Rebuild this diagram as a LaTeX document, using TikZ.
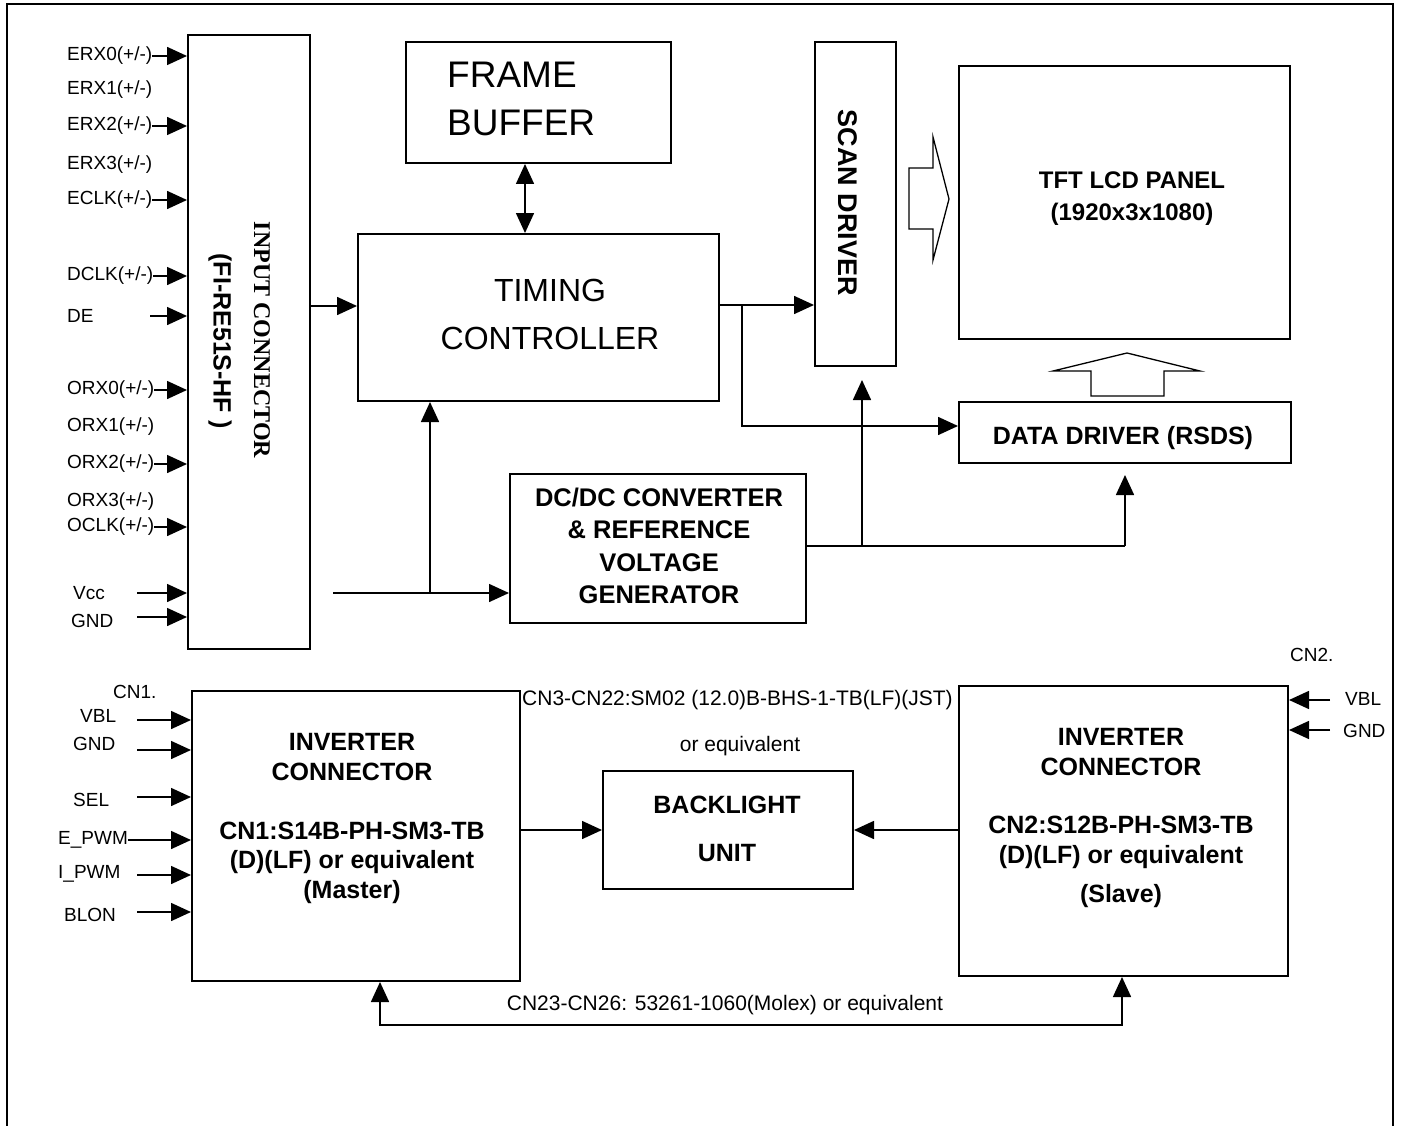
\documentclass[tikz,border=0pt]{standalone}
\usepackage{fontspec}
\setmainfont{Liberation Sans}
\newfontfamily\serifface{Liberation Serif}
\usetikzlibrary{arrows.meta}
\begin{document}
\begin{tikzpicture}[x=1pt,y=-1pt,
  box/.style={draw,line width=2pt,anchor=north west,inner sep=0pt},
  tip/.tip={Triangle[length=20pt,width=18pt]},
  arr/.style={line width=1.6pt,-tip},
  darr/.style={line width=1.6pt,tip-tip},
  ln/.style={line width=1.6pt},
  hollow/.style={line width=1.3pt},
  lbl/.style={font=\fontsize{19}{21}\selectfont,inner sep=0pt,anchor=west},
  lblc/.style={font=\fontsize{21}{23}\selectfont,inner sep=0pt},
  btxt/.style={font=\fontsize{25}{30}\selectfont\bfseries,align=center,inner sep=0pt},
  rtxt/.style={font=\fontsize{32}{48}\selectfont,inner sep=0pt}]
\useasboundingbox (0,0) rectangle (1402,1126);
% outer frame
\draw[line width=2pt] (7,1126) -- (7,4) -- (1393,4) -- (1393,1126);

% boxes
\node[box,minimum width=122pt,minimum height=614pt] (inbox) at (187,34) {};
\node[box,minimum width=265pt,minimum height=121pt] (frame) at (405,41) {};
\node[box,minimum width=361pt,minimum height=167pt] (timing) at (357,233) {};
\node[box,minimum width=81pt,minimum height=324pt] (scan) at (814,41) {};
\node[box,minimum width=331pt,minimum height=273pt] (tft) at (958,65) {};
\node[box,minimum width=332pt,minimum height=61pt] (data) at (958,401) {};
\node[box,minimum width=296pt,minimum height=149pt] (dcdc) at (509,473) {};
\node[box,minimum width=328pt,minimum height=290pt] (master) at (191,690) {};
\node[box,minimum width=250pt,minimum height=118pt] (blu) at (602,770) {};
\node[box,minimum width=329pt,minimum height=290pt] (slave) at (958,685) {};

% box texts
\node[rotate=-90,inner sep=0pt,font=\serifface\bfseries\fontsize{24}{26}\selectfont] (inputtxt) at (262,340) {INPUT CONNECTOR};
\node[rotate=-90,inner sep=0pt,font=\bfseries\fontsize{25}{26}\selectfont] (inputpn) at (220,341) {(FI-RE51S-HF )};
\node[rtxt,font=\fontsize{37}{48}\selectfont,align=left,anchor=west] (frametxt) at (447,99) {FRAME\\BUFFER};
\node[rtxt,align=center] (timingtxt) at (550,314) {TIMING\\CONTROLLER};
\node[btxt,font=\fontsize{27}{30}\selectfont\bfseries,rotate=-90] (scantxt) at (848,203) {SCAN DRIVER};
\node[btxt,font=\fontsize{24}{32}\selectfont\bfseries] (tfttxt) at (1132,199) {TFT LCD PANEL\\(1920x3x1080)};
\node[btxt] (datatxt) at (1123,438) {DATA DRIVER (RSDS)};
\node[btxt,font=\fontsize{25.5}{32.3}\selectfont\bfseries] (dcdctxt) at (659,546) {DC/DC CONVERTER\\\& REFERENCE\\VOLTAGE\\GENERATOR};
\node[btxt,font=\fontsize{25}{29.5}\selectfont\bfseries] (mastertxt) at (352,818.5) {INVERTER\\CONNECTOR\\[29.5pt]CN1:S14B-PH-SM3-TB\\(D)(LF) or equivalent\\(Master)};
\node[btxt,font=\fontsize{25}{48}\selectfont\bfseries] (blutxt) at (727,829) {BACKLIGHT\\UNIT};
\node[btxt,font=\fontsize{25}{30}\selectfont\bfseries] (slavetxt) at (1121,817.5) {INVERTER\\CONNECTOR\\[28pt]CN2:S12B-PH-SM3-TB\\(D)(LF) or equivalent\\[9pt](Slave)};

% input labels
\node[lbl] (erx0) at (67,56) {ERX0(+/-)};
\node[lbl] (erx1) at (67,90) {ERX1(+/-)};
\node[lbl] (erx2) at (67,126) {ERX2(+/-)};
\node[lbl] (erx3) at (67,165) {ERX3(+/-)};
\node[lbl] (eclk) at (67,200) {ECLK(+/-)};
\node[lbl] (dclk) at (67,276) {DCLK(+/-)};
\node[lbl] (de) at (67,316) {DE};
\node[lbl] (orx0) at (67,390) {ORX0(+/-)};
\node[lbl] (orx1) at (67,427) {ORX1(+/-)};
\node[lbl] (orx2) at (67,464) {ORX2(+/-)};
\node[lbl] (orx3) at (67,502) {ORX3(+/-)};
\node[lbl] (oclk) at (67,527) {OCLK(+/-)};
\node[lbl] (vcc) at (73,593) {Vcc};
\node[lbl] (gnd) at (71,621) {GND};
\foreach \s in {erx0,erx2,eclk,dclk,orx0,orx2,oclk}
  \draw[arr] (\s.east) -- (\s.east -| inbox.west);
\coordinate (dest) at (150,316);
\coordinate (vccs) at (137,593);
\coordinate (gnds) at (137,617);
\draw[arr] (dest) -- (dest -| inbox.west);
\draw[arr] (vccs) -- (vccs -| inbox.west);
\draw[arr] (gnds) -- (gnds -| inbox.west);

% upper connectors
\coordinate (y306) at (0,306);
\draw[arr] (inbox.east |- y306) -- (timing.west |- y306);
\coordinate (x525) at (525,0);
\draw[darr] (frame.south -| x525) -- (timing.north -| x525);
\coordinate (ts) at (0,305);
\draw[arr] (timing.east |- ts) -- (scan.west |- ts);
\coordinate (br1) at (742,305);
\coordinate (dd) at (742,426);
\draw[arr] (br1) -- (dd) -- (dd -| data.west);
\coordinate (dc1) at (1125,546);
\coordinate (dc2) at (862,546);
\draw[ln] (dcdc.east |- dc1) -- (dc1);
\draw[arr,shorten >=11pt] (dc1) -- (dc1 |- data.south);
\draw[arr,shorten >=13pt] (dc2) -- (dc2 |- scan.south);
\coordinate (v0) at (333,593);
\coordinate (v1) at (430,593);
\draw[arr] (v0) -- (v0 -| dcdc.west);
\draw[arr] (v1) -- (v1 |- timing.south);

% hollow arrows
\draw[hollow] (909,168) -- (933,168) -- (933,137) -- (949,199) -- (933,260) -- (933,229) -- (909,229) -- cycle;
\draw[hollow] (1091,396) -- (1091,371) -- (1053,371) -- (1127,353) -- (1200,371) -- (1164,371) -- (1164,396) -- cycle;

% bottom labels left
\node[lbl] (cn1) at (113,692) {CN1.};
\node[lbl] (vbl1) at (80,716) {VBL};
\node[lbl] (gnd1) at (73,744) {GND};
\node[lbl] (sel) at (73,800) {SEL};
\node[lbl] (epwm) at (58,840) {E\_PWM};
\node[lbl] (ipwm) at (58,874) {I\_PWM};
\node[lbl] (blon) at (64,915) {BLON};
\coordinate (cvbl) at (137,720);
\coordinate (cgnd) at (137,750);
\coordinate (csel) at (137,797);
\coordinate (cipwm) at (137,875);
\coordinate (cblon) at (137,912);
\foreach \c in {cvbl,cgnd,csel,cipwm,cblon}
  \draw[arr] (\c) -- (\c -| master.west);
\draw[arr] (epwm.east) -- (epwm.east -| master.west);

% bottom labels right
\node[lbl] (cn2) at (1290,655) {CN2.};
\node[lbl] (vbl2) at (1345,699) {VBL};
\node[lbl] (gnd2) at (1343,731) {GND};
\coordinate (rvbl) at (1330,700);
\coordinate (rgnd) at (1330,730);
\draw[arr] (rvbl) -- (rvbl -| slave.east);
\draw[arr] (rgnd) -- (rgnd -| slave.east);

% connector labels
\node[lblc,anchor=west] (cn3) at (522,700) {CN3-CN22:SM02 (12.0)B-BHS-1-TB(LF)(JST)};
\node[lblc] (cn3b) at (740,746) {or equivalent};
\node[lblc] (cn23) at (725,1005) {CN23-CN26: 53261-1060(Molex) or equivalent};

% bottom connectors
\draw[arr] (master.east |- blu.west) -- (blu.west);
\draw[arr] (slave.west |- blu.east) -- (blu.east);
\coordinate (bl) at (380,1025);
\coordinate (br) at (1122,1025);
\draw[darr] (bl |- master.south) -- (bl) -- (br) -- (br |- slave.south);
\end{tikzpicture}
\end{document}
